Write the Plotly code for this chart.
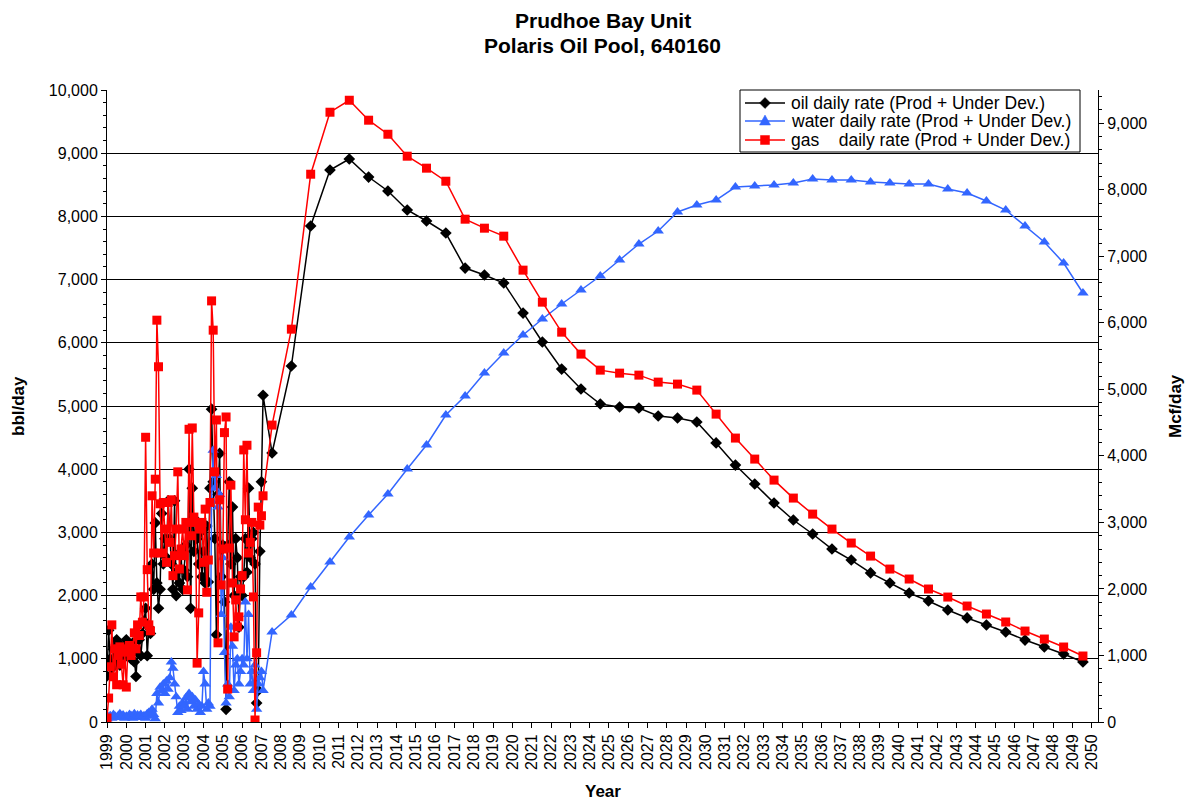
import plotly.graph_objects as go

# ---------------- data ----------------
# monthly history, Jan 1999 .. Feb 2007
hist_oil = [
    730, 1450, 1000, 850, 1150, 950, 1300, 1250, 900, 1100, 1000, 1200,
    1300, 1050, 1150, 1000, 1250, 950, 720, 1100, 1300, 1050, 1400, 1600,
    1800, 1050, 1500, 1400, 2500, 2100, 3150, 2200, 1800, 2100, 3300, 2500,
    2900, 2600, 3500, 2900, 2500, 2100, 3500, 2000, 2400, 2200, 2700, 2100,
    2400, 2800, 2300, 4000, 1800, 3700, 2700, 3200, 2900, 2500, 3000, 2300,
    2700, 2200, 3100, 2215, 3700, 4950, 3800, 2900, 1380, 3600, 4250, 2300,
    2800, 1900, 200, 2800, 3800, 2500, 3400, 2000, 2900, 2600, 1500, 2300,
    2000, 2300, 2900, 2370, 3700, 2600, 2900, 3000, 2500, 300, 500, 2700,
    3800, 5170,
]
hist_water = [
    50, 80, 100, 60, 120, 90, 70, 100, 130, 80, 110, 60,
    90, 70, 120, 100, 60, 130, 80, 110, 90, 120, 70, 100,
    60, 130, 150, 90, 200, 120, 50, 450, 300, 550, 500, 600,
    450, 650, 520, 700, 950, 850, 600, 400, 150, 250, 180, 300,
    250, 380, 200, 450, 320, 400, 250, 350, 200, 280, 150, 250,
    800, 600, 200, 300, 250, 3500, 4300, 3700, 3900, 3400, 3600, 1700,
    2600, 1100, 300, 600, 400, 1500, 1200, 500, 900, 1000, 600, 800,
    1000, 900, 1900, 1000, 1700, 600, 800, 500, 900, 200, 600, 700,
    800, 500,
]
hist_gas = [
    60, 360, 830, 1460, 680, 1100, 560, 1000, 1130, 870, 560, 1050,
    525, 1100, 1150, 1000, 1110, 1340, 1100, 1460, 1300, 1880, 1500, 1880,
    4280, 2290, 1460, 1370, 3400, 2540, 3650, 6040, 5340, 3280, 2540, 3300,
    2900, 2400, 3300, 2700, 3340, 2200, 2500, 2900, 3760, 2300, 2600, 2900,
    2500, 3000, 1985, 4400, 2800, 4420, 3080, 3000, 885, 1640, 2900, 3000,
    2400, 3200, 1950, 2435, 3300, 6330, 5890, 3760, 4540, 1190, 3340, 2060,
    2600, 4350, 4585, 495, 2615, 3560, 2090, 1280, 1835, 1430, 1580, 2000,
    2200, 4090, 3040, 4160, 2540, 2700, 3000, 1880, 30, 1040, 3230, 2960,
    3100, 3400,
]

# annual forecast, mid-2007 .. mid-2049
fc_years = [2007.55] + [y + 0.55 for y in range(2008, 2050)]
fc_oil = [
    4256, 5633, 7848, 8734, 8908, 8623, 8402, 8101, 7927, 7737, 7183, 7073,
    6946, 6471, 6013, 5585, 5269, 5032, 4984, 4968, 4842, 4810, 4747, 4415,
    4066, 3766, 3465, 3196, 2975, 2737, 2563, 2358, 2199, 2041, 1915, 1772,
    1646, 1535, 1424, 1297, 1187, 1076, 949,
]
fc_water = [
    1424, 1693, 2136, 2532, 2927, 3275, 3608, 4003, 4383, 4858, 5158, 5522,
    5839, 6123, 6377, 6614, 6835, 7057, 7310, 7563, 7769, 8070, 8180, 8259,
    8465, 8481, 8497, 8528, 8592, 8576, 8576, 8544, 8528, 8513, 8513, 8434,
    8370, 8244, 8101, 7848, 7595, 7263, 6788,
]
fc_gas = [
    4463, 5905, 8234, 9166, 9346, 9046, 8835, 8505, 8325, 8129, 7558, 7423,
    7303, 6792, 6311, 5860, 5530, 5289, 5244, 5214, 5109, 5079, 4989, 4628,
    4268, 3952, 3636, 3366, 3125, 2900, 2690, 2494, 2299, 2149, 1999, 1878,
    1743, 1623, 1503, 1367, 1247, 1127, 992,
]

year_ticks = list(range(1999, 2051))

series_names = [
    "oil daily rate (Prod + Under Dev.)",
    "water daily rate (Prod + Under Dev.)",
    "gas\u00a0\u00a0\u00a0\u00a0daily rate (Prod + Under Dev.)",
]
series_colors = ["black", "#3366FF", "#FF0000"]
series_symbols = ["diamond", "triangle-up", "square"]

title_lines = ["Prudhoe Bay Unit", "Polaris Oil Pool, 640160"]
x_title = "Year"
y_title = "bbl/day"
y2_title = "Mcf/day"

# ---------------- build ----------------
hist_x = [1999 + m / 12 for m in range(len(hist_oil))]
x_all = hist_x + fc_years
series_y = [hist_oil + fc_oil, hist_water + fc_water, hist_gas + fc_gas]
series_axes = ["y", "y", "y2"]
marker_sizes = [9, 10, 9]

FONT = "Liberation Sans, Arial, sans-serif"

fig = go.Figure()
for name, yv, col, sym, ax, ms in zip(series_names, series_y, series_colors,
                                       series_symbols, series_axes, marker_sizes):
    fig.add_trace(go.Scatter(
        x=x_all, y=yv, mode="lines+markers", name=name,
        line=dict(color=col, width=1.5),
        marker=dict(symbol=sym, size=ms, color=col),
        yaxis=ax, showlegend=False,
    ))

L, R, T, B = 107, 1098, 90, 722
PW, PH = float(R - L), float(B - T)
def fx(px):
    return (px - L) / PW
def fy(py):
    return (B - py) / PH

annotations = [
    dict(text="<b>" + title_lines[0] + "</b>", x=0.5, xref="paper", y=fy(20), yref="paper",
         xanchor="center", yanchor="middle", showarrow=False,
         font=dict(family=FONT, size=21, color="black")),
    dict(text="<b>" + title_lines[1] + "</b>", x=0.5, xref="paper", y=fy(45), yref="paper",
         xanchor="center", yanchor="middle", showarrow=False,
         font=dict(family=FONT, size=21, color="black")),
    dict(text="<b>" + x_title + "</b>", x=0.5, xref="paper", y=fy(791), yref="paper",
         xanchor="center", yanchor="middle", showarrow=False,
         font=dict(family=FONT, size=17, color="black")),
    dict(text="<b>" + y_title + "</b>", x=fx(18), xref="paper", y=0.5, yref="paper",
         xanchor="center", yanchor="middle", showarrow=False, textangle=-90,
         font=dict(family=FONT, size=17, color="black")),
    dict(text="<b>" + y2_title + "</b>", x=fx(1175), xref="paper", y=0.5, yref="paper",
         xanchor="center", yanchor="middle", showarrow=False, textangle=-90,
         font=dict(family=FONT, size=17, color="black")),
]

# ---- legend drawn by hand (compact Excel-style box) ----
shapes = [dict(type="rect", xref="paper", yref="paper",
               x0=fx(740), x1=fx(1080), y0=fy(152), y1=fy(90),
               line=dict(color="black", width=1), fillcolor="white", layer="above")]
row_y = [103, 121, 140]
for i, (name, col, sym) in enumerate(zip(series_names, series_colors, series_symbols)):
    cy = row_y[i]
    shapes.append(dict(type="line", xref="paper", yref="paper",
                       x0=fx(745), x1=fx(785), y0=fy(cy), y1=fy(cy),
                       line=dict(color=col, width=1.5), layer="above"))
    cx = 765
    if sym == "diamond":
        pts = [(cx, cy - 5.5), (cx + 5.5, cy), (cx, cy + 5.5), (cx - 5.5, cy)]
    elif sym == "triangle-up":
        pts = [(cx, cy - 6), (cx + 5.5, cy + 4), (cx - 5.5, cy + 4)]
    else:
        pts = [(cx - 4.5, cy - 4.5), (cx + 4.5, cy - 4.5), (cx + 4.5, cy + 4.5), (cx - 4.5, cy + 4.5)]
    path = "M " + " L ".join("%.5f,%.5f" % (fx(a), fy(b)) for a, b in pts) + " Z"
    shapes.append(dict(type="path", xref="paper", yref="paper", path=path,
                       fillcolor=col, line=dict(color=col, width=0.5), layer="above"))
    annotations.append(dict(text=name, x=fx(789), xref="paper", y=fy(cy), yref="paper",
                            xanchor="left", yanchor="middle", showarrow=False,
                            font=dict(family=FONT, size=17.5, color="black")))

fig.update_layout(
    width=1187, height=803,
    margin=dict(l=L, r=1187 - R, t=T, b=803 - B),
    paper_bgcolor="white", plot_bgcolor="white",
    font=dict(family=FONT, size=16, color="black"),
    annotations=annotations,
    shapes=shapes,
    showlegend=False,
    xaxis=dict(
        range=[1999, 2050.33], automargin=False,
        tickmode="array", tickvals=year_ticks, ticktext=[str(y) for y in year_ticks],
        tickangle=-90, ticks="outside", ticklen=5, tickcolor="black",
        showgrid=False, zeroline=False,
        showline=True, linecolor="black", linewidth=1,
        tickfont=dict(family=FONT, size=16),
    ),
    yaxis=dict(
        range=[0, 10000], dtick=1000, tickformat=",", automargin=False,
        ticks="outside", ticklen=5, tickcolor="black",
        minor=dict(dtick=200, ticks="outside", ticklen=3, tickcolor="black", showgrid=False),
        showgrid=True, gridcolor="black", gridwidth=1,
        zeroline=False, showline=True, linecolor="black", linewidth=1,
        tickfont=dict(family=FONT, size=16),
    ),
    yaxis2=dict(
        range=[0, 9500], tickmode="array", tickvals=list(range(0, 10000, 1000)),
        tickformat=",", overlaying="y", side="right", automargin=False,
        ticks="outside", ticklen=5, tickcolor="black",
        minor=dict(dtick=200, ticks="outside", ticklen=3, tickcolor="black", showgrid=False),
        showgrid=False, zeroline=False, showline=True, linecolor="black", linewidth=1,
        tickfont=dict(family=FONT, size=16),
    ),
)

fig.write_html("out.html")
